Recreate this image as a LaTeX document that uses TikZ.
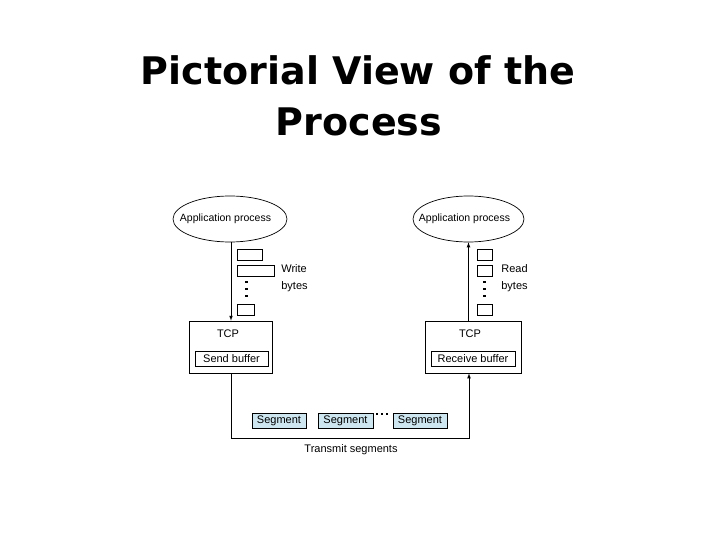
\documentclass[tikz,border=0pt]{standalone}
\usepackage{fontspec}
\setmainfont{Liberation Sans}
\newfontfamily\headfont{DejaVu Sans}
\usetikzlibrary{shapes.geometric}

\definecolor{segblue}{RGB}{205,230,240}

\begin{document}
\begin{tikzpicture}[x=1pt,y=-1pt,line width=0.7pt,
    proc/.style={draw,ellipse,minimum width=114pt,minimum height=46pt,inner sep=0pt},
    bytebox/.style={draw,rectangle,minimum height=11pt,inner sep=0pt},
    dot/.style={fill,rectangle,minimum size=2.4pt,inner sep=0pt},
    tcpbox/.style={draw,rectangle,minimum height=52pt,inner sep=0pt},
    bufbox/.style={draw,rectangle,minimum height=15pt,inner sep=0pt,font=\fontsize{11}{13}\selectfont},
    segbox/.style={draw,rectangle,fill=segblue,minimum width=54pt,minimum height=15pt,inner sep=0pt,font=\fontsize{11}{13}\selectfont},
    lbl/.style={inner sep=0pt,font=\fontsize{11}{13}\selectfont}]
\useasboundingbox (0,0) rectangle (720,540);

% title
\node[anchor=base,inner sep=0pt,font=\headfont\bfseries\fontsize{38}{44}\selectfont] (title1) at (358,85) {Pictorial View of the};
\node[anchor=base,inner sep=0pt,font=\headfont\bfseries\fontsize{38}{44}\selectfont] (title2) at (359,136) {Process};

% application processes
\node[proc] (appS) at (230,219) {};
\node[lbl,font=\fontsize{10.5}{12}\selectfont] (appStxt) at ([xshift=-4.5pt]appS.center) {Application process};
\node[proc,minimum width=111pt] (appR) at (468.5,219) {};
\node[lbl,font=\fontsize{10.5}{12}\selectfont] (appRtxt) at ([xshift=-4pt]appR.center) {Application process};

% sending side
\node[tcpbox,minimum width=83pt] (tcpS) at (230.5,347) {};
\node[lbl] (tcpStxt) at (228,334) {TCP};
\node[bufbox,minimum width=73pt] (sbuf) at (231.5,358.5) {Send buffer};

\node[bytebox,minimum width=25pt] (wa) at (249.5,254.5) {};
\node[bytebox,minimum width=37pt] (wb) at (255.5,270.5) {};
\node[bytebox,minimum width=17pt] (wc) at (245.5,309.5) {};
\foreach \y [count=\i] in {282,289,296}
    \node[dot] (wd\i) at (246.5,\y) {};
\node[lbl,anchor=west] (write) at (281,269) {Write};
\node[lbl,anchor=west] (wbytes) at (281,287) {bytes};

% receiving side
\node[tcpbox,minimum width=96pt] (tcpR) at (473,347) {};
\node[lbl] (tcpRtxt) at (470,334) {TCP};
\node[bufbox,minimum width=84pt] (rbuf) at (473,358.5) {Receive buffer};

\node[bytebox,minimum width=15pt] (ra) at (484.5,255) {};
\node[bytebox,minimum width=15pt] (rb) at (484.5,270.5) {};
\node[bytebox,minimum width=15pt] (rc) at (484.5,309.5) {};
\foreach \y [count=\i] in {282,289,296}
    \node[dot] (rd\i) at (484.5,\y) {};
\node[lbl,anchor=west] (read) at (501,269) {Read};
\node[lbl,anchor=west] (rbytes) at (501,287) {bytes};

% segments
\node[segbox] (seg1) at (279,420.5) {Segment};
\node[segbox,minimum width=55pt] (seg2) at (345.5,420.5) {Segment};
\node[segbox] (seg3) at (420,420.5) {Segment};
\foreach \x [count=\i] in {377,382,387}
    \node[dot,minimum size=2pt] (sd\i) at (\x,414) {};
\node[lbl] (transmit) at (351,450) {Transmit segments};

% connectors
\coordinate (sout) at ([xshift=0.5pt]tcpS.south);
\coordinate (rin) at ([xshift=-4pt]tcpR.south);
\draw[-latex] ([xshift=1pt]appS.south) -- ([xshift=1pt]appS.south |- tcpS.north);
\draw[-latex] (appR.south |- tcpR.north) -- (appR.south);
\draw[-latex] (sout) -- ++(0,65) -| (rin);
\end{tikzpicture}
\end{document}
